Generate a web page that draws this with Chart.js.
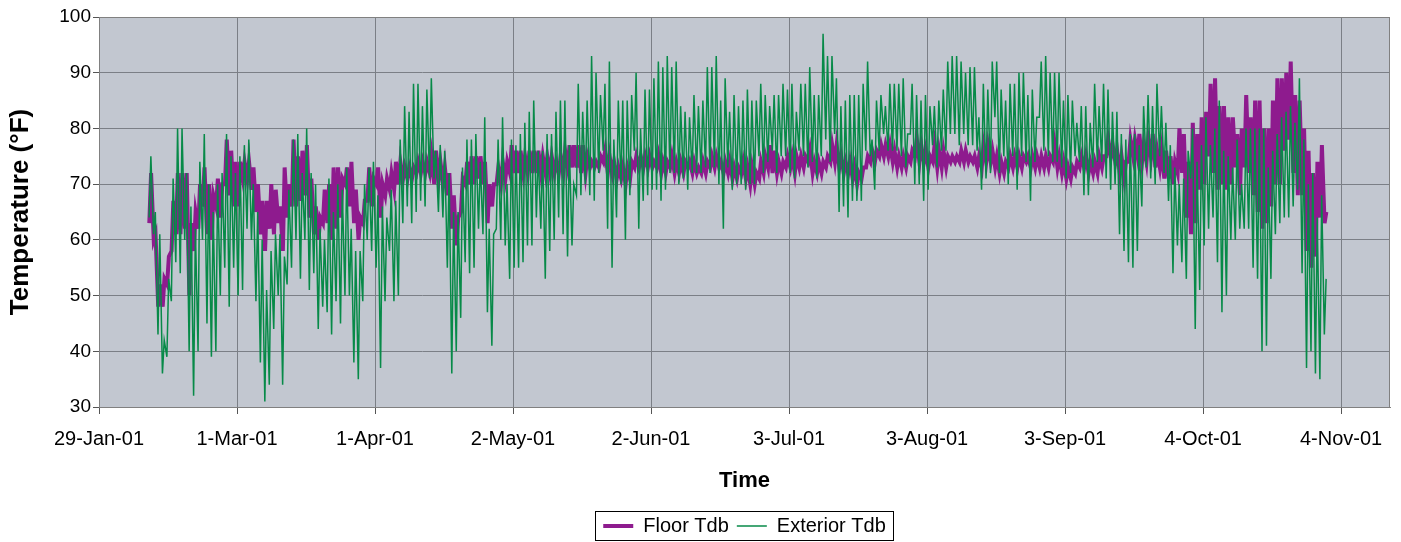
<!DOCTYPE html>
<html>
<head>
<meta charset="utf-8">
<script src="https://cdn.jsdelivr.net/npm/chart.js@4.4.1/dist/chart.umd.min.js"></script>
<style>
  html, body { margin: 0; padding: 0; background: #ffffff; }
  #wrap { width: 1401px; height: 542px; position: relative; }
</style>
</head>
<body>
<div id="wrap"><canvas id="c" width="1401" height="542"></canvas></div>
<script>
// ---- Data ----
// Day 0 = 29-Jan-01; values are one daily low and one daily high per day.
const firstDay = 11;
const tickLabels = ['29-Jan-01','1-Mar-01','1-Apr-01','2-May-01','2-Jun-01','3-Jul-01','3-Aug-01','3-Sep-01','4-Oct-01','4-Nov-01'];
const seriesNames = ['Floor Tdb', 'Exterior Tdb'];

const exteriorLow = [
64,61,43,36,39,49,56,54,60,40,32,40,60,45,39,40,50,55,48,55,50,
51,62,60,49,38,31,34,44,50,34,52,55,60,53,60,51,54,44,48,47,43,49,45,
50,50,38,35,49,60,58,55,37,49,58,49,50,63,66,63,65,67,66,71,71,65,
64,55,36,40,46,56,54,55,62,61,47,41,62,60,59,53,55,55,56,59,59,64,62,
53,58,60,64,61,57,59,68,68,70,68,67,72,76,62,55,64,70,60,68,76,62,
67,68,69,69,67,69,72,72,70,71,69,72,72,72,73,72,73,70,62,73,69,70,70,
69,70,70,75,72,74,76,72,75,75,72,71,76,75,73,74,71,75,78,74,79,65,
66,64,67,67,67,76,75,69,76,79,76,76,76,75,73,79,70,70,67,69,77,73,76,
76,79,79,77,79,77,77,76,69,71,72,82,72,75,70,75,69,75,74,67,74,82,
76,75,74,74,73,71,72,75,74,68,68,73,74,74,71,69,70,61,58,56,55,58,
66,73,71,70,75,72,67,54,59,56,53,71,44,51,59,62,64,56,47,50,60,60,62,
62,62,55,53,40,41,53,61,63,64,64,66,69,54,37,40,36,35,43
];
const exteriorHigh = [
75,65,61,42,53,71,80,80,72,66,62,74,79,70,65,70,72,79,75,72,75,
77,78,70,65,60,51,58,61,61,57,69,78,79,72,80,72,70,62,60,71,65,70,69,
73,62,58,58,70,73,74,68,66,64,69,67,78,84,83,88,88,84,87,89,76,77,
76,72,65,65,73,78,78,79,74,82,62,61,78,82,70,78,77,79,81,83,85,76,76,
79,79,83,85,85,77,70,88,83,85,93,90,86,88,92,78,85,85,85,86,90,80,
87,87,89,92,91,93,91,92,84,83,82,86,84,85,91,91,93,85,89,83,86,84,85,
87,85,85,88,86,84,86,86,88,87,88,83,88,88,91,86,86,97,93,93,89,84,
85,86,86,86,88,92,78,85,86,84,88,88,88,89,79,88,86,85,86,84,84,85,87,
92,93,93,92,90,91,91,82,88,87,92,92,87,85,88,88,90,90,86,87,82,92,
93,90,90,90,85,86,85,81,84,84,81,88,84,88,87,83,83,79,78,79,79,77,
84,86,84,88,84,81,77,73,70,71,76,80,74,77,82,77,80,85,76,75,73,78,70,
80,80,80,80,80,73,76,79,82,83,84,81,89,78,70,72,64,68,53
];
const floorLow = [
63,60,48,48,52,58,61,61,62,50,58,62,66,61,60,66,64,70,68,66,66,
71,71,69,65,61,58,62,61,63,58,64,66,66,67,68,64,61,60,63,63,60,62,64,
70,66,63,60,63,67,66,70,64,68,69,69,70,71,71,71,72,72,72,72,70,71,
70,68,62,59,65,70,70,70,71,70,63,66,70,70,71,72,72,72,72,72,72,72,72,
72,72,72,72,72,73,73,73,72,72,73,73,73,74,72,72,71,71,70,71,73,73,
73,73,73,73,72,72,73,72,72,72,73,72,72,72,72,73,73,73,72,72,71,71,72,
71,70,70,71,72,73,72,72,72,73,73,72,73,73,74,72,72,72,73,74,74,73,
72,72,71,70,71,73,74,74,75,75,75,74,73,73,73,74,75,74,74,73,74,73,73,
73,74,74,74,74,74,74,73,73,74,74,73,72,72,73,73,73,73,74,73,73,73,
73,73,74,73,72,71,71,72,73,73,72,72,72,73,75,75,74,72,71,74,75,75,
74,74,75,73,73,71,71,70,72,72,64,61,63,69,70,75,72,69,70,69,70,73,68,
73,72,68,65,62,63,66,70,70,76,78,72,68,68,58,55,57,64,63
];
const floorHigh = [
72,61,52,53,57,67,72,72,72,63,65,70,73,70,68,71,70,78,76,74,74,
74,74,73,70,67,67,70,69,66,73,70,78,75,76,77,71,66,64,69,70,73,73,71,
73,74,69,64,67,73,71,73,70,71,72,74,74,73,73,73,74,74,74,75,76,74,
73,72,68,64,71,74,75,75,75,74,70,70,73,74,74,77,76,76,75,76,76,76,75,
75,75,74,75,76,77,77,77,77,75,74,74,75,76,75,74,73,73,73,74,75,75,
75,75,74,75,74,74,75,74,74,74,74,74,73,74,74,75,75,74,74,74,73,73,74,
73,73,72,74,75,77,76,74,74,75,75,75,75,75,76,74,74,74,75,77,77,75,
74,74,73,72,73,75,76,76,77,77,77,76,75,75,75,76,78,77,76,75,77,76,76,
75,75,75,76,76,75,75,75,77,77,76,75,74,74,75,75,75,75,75,75,75,75,
75,75,77,75,74,73,73,74,75,75,74,74,75,75,78,77,76,75,74,78,78,79,
77,78,79,76,76,76,75,74,80,79,74,81,79,82,83,88,89,84,84,82,82,79,80,
86,82,85,85,80,80,85,89,89,90,92,86,85,80,76,72,74,77,65
];

// ---- Build chart data from the arrays ----
const MS_DAY = 86400000;
const MONTHS = {Jan:0,Feb:1,Mar:2,Apr:3,May:4,Jun:5,Jul:6,Aug:7,Sep:8,Oct:9,Nov:10,Dec:11};
function labelToDay(lbl) {
  const p = lbl.split('-');
  return Date.UTC(2000 + (+p[2]), MONTHS[p[1]], +p[0]);
}
const base = labelToDay(tickLabels[0]);
const tickDays = tickLabels.map(l => Math.round((labelToDay(l) - base) / MS_DAY));

function dailyPoints(lo, hi, tLo, tHi) {
  const out = [];
  lo.forEach((v, i) => {
    out.push({x: firstDay + i + tLo, y: v});
    out.push({x: firstDay + i + tHi, y: hi[i]});
  });
  return out;
}

Chart.defaults.font.family = '"Liberation Sans", Arial, Helvetica, sans-serif';
Chart.defaults.color = '#000000';

const plotBg = {
  id: 'plotBg',
  beforeDraw(chart) {
    const {ctx, chartArea: a} = chart;
    ctx.save();
    ctx.fillStyle = '#C2C7D0';
    ctx.fillRect(a.left, a.top, a.right - a.left, a.bottom - a.top);
    ctx.restore();
  },
  afterDatasetsDraw(chart) {
    const {ctx, chartArea: a} = chart;
    ctx.save();
    ctx.strokeStyle = '#808080';
    ctx.lineWidth = 1;
    ctx.strokeRect(a.left + 0.5, a.top + 0.5, a.right - a.left - 1, a.bottom - a.top);
    ctx.restore();
  }
};

// Centre the legend under the plot area (as in the reference) and draw its frame
const legendBox = {
  id: 'legendBox',
  afterLayout(chart) {
    const lg = chart.legend, a = chart.chartArea;
    if (!lg) return;
    const shift = (a.left + a.right) / 2 - (lg.left + lg.right) / 2;
    lg.left += shift; lg.right += shift;
    lg.top += 4; lg.bottom += 4;
  },
  afterDraw(chart) {
    const lg = chart.legend;
    if (!lg || !lg.legendHitBoxes || !lg.legendHitBoxes.length) return;
    const hb = lg.legendHitBoxes;
    let l = Infinity, r = -Infinity, t = Infinity, b = -Infinity;
    hb.forEach(h => { l = Math.min(l, h.left); r = Math.max(r, h.left + h.width); t = Math.min(t, h.top); b = Math.max(b, h.top + h.height); });
    const {ctx} = chart;
    ctx.save();
    ctx.strokeStyle = '#000000';
    ctx.lineWidth = 1;
    ctx.strokeRect(Math.round(l - 8) + 0.5, Math.round(t - 5) + 0.5, Math.round(r - l + 15), Math.round(b - t + 9));
    ctx.restore();
  }
};

new Chart(document.getElementById('c'), {
  type: 'line',
  data: {
    datasets: [
      {
        label: seriesNames[0],
        data: dailyPoints(floorLow, floorHigh, 0.3, 0.7),
        borderColor: '#8E1B8E',
        backgroundColor: '#8E1B8E',
        borderWidth: 4,
        pointRadius: 0,
        tension: 0,
        order: 1
      },
      {
        label: seriesNames[1],
        data: dailyPoints(exteriorLow, exteriorHigh, 0.25, 0.65),
        borderColor: '#078A48',
        backgroundColor: '#078A48',
        borderWidth: 1.5,
        pointRadius: 0,
        tension: 0,
        order: 0
      }
    ]
  },
  options: {
    responsive: false,
    animation: false,
    devicePixelRatio: 1,
    layout: { padding: { top: 17, right: 11, left: 0, bottom: 0 } },
    plugins: {
      legend: {
        position: 'bottom',
        labels: {
          usePointStyle: true,
          pointStyle: 'line',
          pointStyleWidth: 30,
          padding: 8,
          font: { size: 20 },
          color: '#000',
          sort: (a, b) => a.datasetIndex - b.datasetIndex
        }
      },
      tooltip: { enabled: false }
    },
    scales: {
      x: {
        type: 'linear',
        min: 0,
        max: 290,
        afterBuildTicks: s => { s.ticks = tickDays.map(v => ({value: v})); },
        afterFit: s => { s.height = 97; },
        ticks: {
          autoSkip: false,
          maxRotation: 0,
          padding: 13,
          font: { size: 20 },
          color: '#000',
          callback: v => { const i = tickDays.indexOf(v); return i >= 0 ? tickLabels[i] : ''; }
        },
        grid: { color: '#7B7F86', lineWidth: 1, tickLength: 7, tickColor: '#555' },
        border: { color: '#808080' },
        title: { display: true, text: 'Time', font: { size: 22, weight: 'bold' }, color: '#000', padding: { top: 0, bottom: 10 } }
      },
      y: {
        min: 30,
        max: 100,
        afterFit: s => { s.width = 99; },
        ticks: { stepSize: 10, padding: 2, font: { size: 19 }, color: '#000' },
        grid: { color: '#7B7F86', lineWidth: 1, tickLength: 6, tickColor: '#555' },
        border: { color: '#808080' },
        title: { display: true, text: 'Temperature (°F)', font: { size: 26, weight: 'bold' }, color: '#000', padding: { top: 5, bottom: 0 } }
      }
    }
  },
  plugins: [plotBg, legendBox]
});
</script>
</body>
</html>
